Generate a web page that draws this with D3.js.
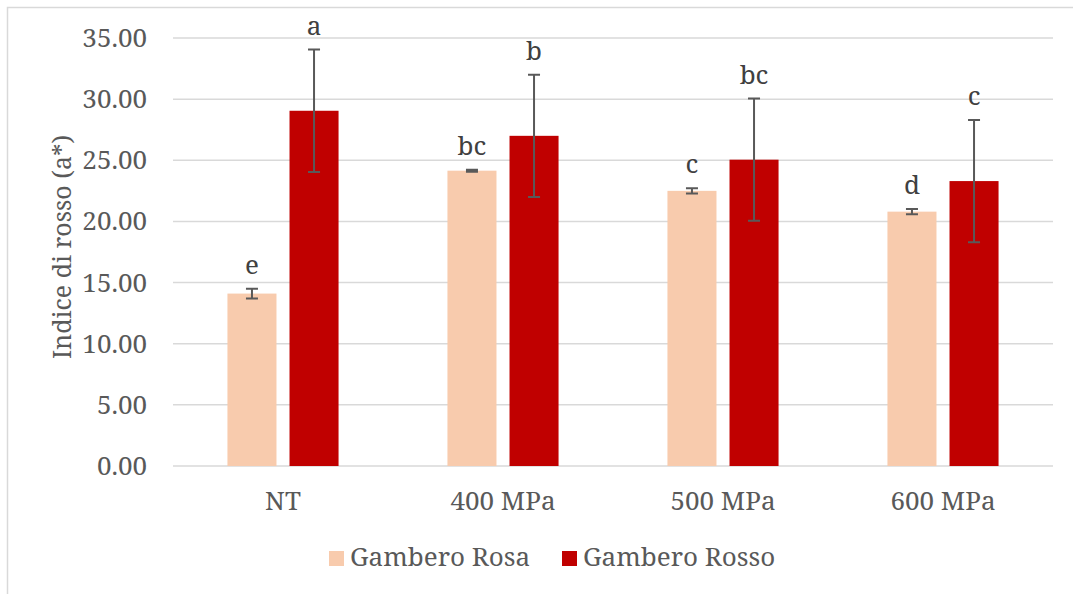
<!DOCTYPE html>
<html>
<head>
<meta charset="utf-8">
<script src="https://cdn.jsdelivr.net/npm/d3@7"></script>
<style>
  body { margin: 0; background: #fff; }
</style>
</head>
<body>
<div id="chart"></div>
<script>
const categories = ["NT", "400 MPa", "500 MPa", "600 MPa"];
const seriesNames = ["Gambero Rosa", "Gambero Rosso"];
const rosaValues = [14.1, 24.15, 22.5, 20.8];
const rosaErrors = [0.4, 0.08, 0.22, 0.22];
const rossoValues = [29.05, 27.0, 25.05, 23.3];
const rossoErrors = [5.0, 5.0, 5.0, 5.0];
const rosaLetters = ["e", "bc", "c", "d"];
const rossoLetters = ["a", "b", "bc", "c"];
const yTicks = [0, 5, 10, 15, 20, 25, 30, 35];
const colors = ["#F8CBAD", "#C00000"];

const fontFamily = "Noto Serif, DejaVu Serif, serif";
const width = 1073;
const height = 594;
const margin = { top: 38, right: 20, bottom: 128, left: 173 };
const boundedwidth = width - margin.left - margin.right;
const boundedheight = height - margin.top - margin.bottom;

const svg = d3.select("#chart").append("svg")
    .attr("width", width)
    .attr("height", height)
    .attr("font-family", fontFamily);

// outer chart border (runs off the right/bottom like the original)
svg.append("rect")
    .attr("x", 7.5).attr("y", 7.5)
    .attr("width", width + 10).attr("height", height + 10)
    .attr("fill", "none")
    .attr("stroke", "#d9d9d9")
    .attr("stroke-width", 1.5);

const g = svg.append("g")
    .attr("transform", `translate(${margin.left},${margin.top})`);

const yScale = d3.scaleLinear().domain([0, 35]).range([boundedheight, 0]);
const xScale = d3.scaleBand().domain(categories).range([0, boundedwidth]).padding(0);
const groupW = xScale.bandwidth() * 0.505;
const xInner = d3.scaleBand().domain(seriesNames).range([0, groupW]).paddingInner(0.21);

// gridlines
g.selectAll(".grid")
  .data(yTicks)
  .join("line")
    .attr("x1", 0).attr("x2", boundedwidth)
    .attr("y1", d => yScale(d)).attr("y2", d => yScale(d))
    .attr("stroke", "#d9d9d9")
    .attr("stroke-width", 1.5);

// y tick labels
g.selectAll(".ytick")
  .data(yTicks)
  .join("text")
    .attr("x", -26)
    .attr("y", d => yScale(d) + 9)
    .attr("text-anchor", "end")
    .attr("font-size", 26)
    .attr("fill", "#595959")
    .text(d => d.toFixed(2));

// x labels
g.selectAll(".xtick")
  .data(categories)
  .join("text")
    .attr("x", d => xScale(d) + xScale.bandwidth() / 2)
    .attr("y", boundedheight + 44)
    .attr("text-anchor", "middle")
    .attr("font-size", 26)
    .attr("fill", "#595959")
    .text(d => d);

// y axis title
g.append("text")
    .attr("transform", `translate(${-102},${boundedheight / 2 - 5}) rotate(-90)`)
    .attr("text-anchor", "middle")
    .attr("font-size", 25)
    .attr("fill", "#595959")
    .text("Indice di rosso (a*)");

const series = [
  { name: seriesNames[0], values: rosaValues, errors: rosaErrors, letters: rosaLetters, color: colors[0] },
  { name: seriesNames[1], values: rossoValues, errors: rossoErrors, letters: rossoLetters, color: colors[1] }
];

series.forEach(s => {
  const rows = categories.map((c, i) => ({ c, v: s.values[i], e: s.errors[i], l: s.letters[i] }));
  const cx = d => xScale(d.c) + (xScale.bandwidth() - groupW) / 2 + xInner(s.name) + xInner.bandwidth() / 2;

  g.selectAll(null)
    .data(rows)
    .join("rect")
      .attr("x", d => cx(d) - xInner.bandwidth() / 2)
      .attr("y", d => yScale(d.v))
      .attr("width", xInner.bandwidth())
      .attr("height", d => yScale(0) - yScale(d.v))
      .attr("fill", s.color);

  // error bars
  g.selectAll(null)
    .data(rows)
    .join("path")
      .attr("d", d => {
        const x = cx(d), y1 = yScale(d.v + d.e), y2 = yScale(d.v - d.e);
        return `M${x},${y1}V${y2}M${x - 6},${y1}H${x + 6}M${x - 6},${y2}H${x + 6}`;
      })
      .attr("fill", "none")
      .attr("stroke", "#595959")
      .attr("stroke-width", 2);

  // significance letters
  g.selectAll(null)
    .data(rows)
    .join("text")
      .attr("x", d => cx(d))
      .attr("y", d => yScale(d.v + d.e) - 15)
      .attr("text-anchor", "middle")
      .attr("font-size", 26)
      .attr("fill", "#404040")
      .text(d => d.l);
});

// legend
const legend = svg.append("g").attr("transform", "translate(329,551)");
const legendX = [0, 233];
seriesNames.forEach((name, i) => {
  legend.append("rect")
    .attr("x", legendX[i]).attr("y", 0)
    .attr("width", 15).attr("height", 15)
    .attr("fill", colors[i]);
  legend.append("text")
    .attr("x", legendX[i] + 21).attr("y", 15)
    .attr("font-size", 26)
    .attr("fill", "#595959")
    .text(name);
});
</script>
</body>
</html>
